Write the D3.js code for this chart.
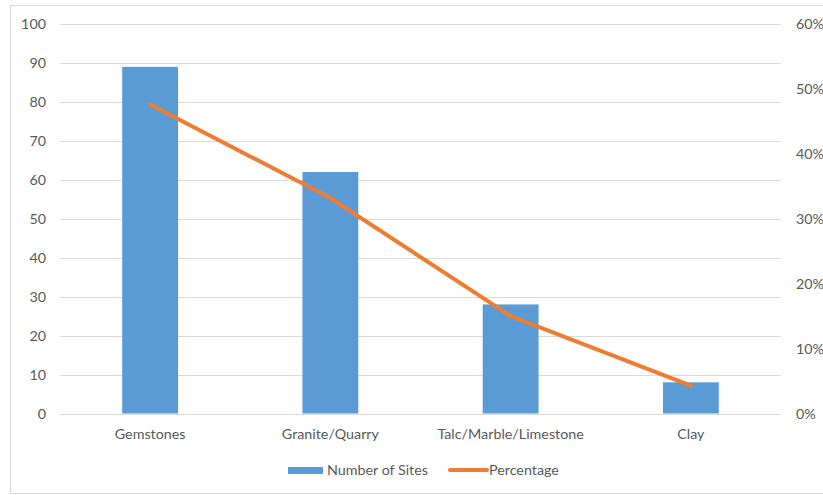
<!DOCTYPE html>
<html>
<head>
<meta charset="utf-8">
<script src="https://cdn.jsdelivr.net/npm/d3@7"></script>
<style>
  html, body { margin: 0; padding: 0; background: #fff; }
  svg { display: block; }
  text { font-family: Lato, "Open Sans", sans-serif; fill: #595959; }
</style>
</head>
<body>
<svg id="chart" width="823" height="495"></svg>
<script>
const categories = ["Gemstones", "Granite/Quarry", "Talc/Marble/Limestone", "Clay"];
const sites = [89, 62, 28, 8];
const percentage = [47.6, 33.2, 15.0, 4.3];
const leftTicks = [0, 10, 20, 30, 40, 50, 60, 70, 80, 90, 100];
const rightTicks = [0, 10, 20, 30, 40, 50, 60];
const seriesNames = ["Number of Sites", "Percentage"];

const FS = "14.3px";
const svg = d3.select("#chart");
const W = 823, H = 495;
const plot = { left: 60, right: 781, top: 24, bottom: 413.5 };

svg.append("rect")
  .attr("x", 10.5).attr("y", 5.5)
  .attr("width", W - 10).attr("height", 488)
  .attr("fill", "#fff").attr("stroke", "#d9d9d9").attr("stroke-width", 1);

const x = d3.scaleBand().domain(categories).range([plot.left, plot.right]).paddingInner(0.69).paddingOuter(0.345);
const yL = d3.scaleLinear().domain([0, 100]).range([plot.bottom, plot.top]);
const yR = d3.scaleLinear().domain([0, 60]).range([plot.bottom, plot.top]);

// gridlines
svg.append("g").selectAll("line").data(leftTicks).join("line")
  .attr("x1", plot.left).attr("x2", plot.right)
  .attr("y1", d => Math.round(yL(d)) + 0.5).attr("y2", d => Math.round(yL(d)) + 0.5)
  .attr("stroke", "#d9d9d9").attr("stroke-width", 1);

function styleText(sel) {
  sel.selectAll("text").style("font-size", FS).attr("fill", "#595959").style("font-family", "Lato, sans-serif");
}

// left axis
const axL = svg.append("g").attr("transform", `translate(${plot.left},0)`)
  .call(d3.axisLeft(yL).tickValues(leftTicks).tickSize(0).tickPadding(14));
axL.select(".domain").remove();
styleText(axL);

// right axis
const axR = svg.append("g").attr("transform", `translate(${plot.right},0)`)
  .call(d3.axisRight(yR).tickValues(rightTicks).tickSize(0).tickPadding(15).tickFormat(d => d + "%"));
axR.select(".domain").remove();
styleText(axR);

// bars
svg.append("g").selectAll("rect").data(categories).join("rect")
  .attr("x", d => x(d)).attr("width", x.bandwidth())
  .attr("y", (d, i) => yL(sites[i])).attr("height", (d, i) => yL(0) - yL(sites[i]))
  .attr("fill", "#5b9bd5");

// x axis baseline
svg.append("line").attr("x1", plot.left).attr("x2", plot.right)
  .attr("y1", Math.round(yL(0)) + 0.5).attr("y2", Math.round(yL(0)) + 0.5)
  .attr("stroke", "#d9d9d9");

// category labels
const axB = svg.append("g").attr("transform", `translate(0,${plot.bottom})`)
  .call(d3.axisBottom(x).tickSize(0).tickPadding(15));
axB.select(".domain").remove();
styleText(axB);

// line
const line = d3.line()
  .x((d, i) => x(categories[i]) + x.bandwidth() / 2)
  .y(d => yR(d));
svg.append("path").datum(percentage)
  .attr("d", line).attr("fill", "none")
  .attr("stroke", "#ed7d31").attr("stroke-width", 4).attr("stroke-linecap", "round").attr("stroke-linejoin", "round");

// legend
const lg = svg.append("g");
lg.append("rect").attr("x", 288).attr("y", 467).attr("width", 35).attr("height", 7).attr("fill", "#5b9bd5");
lg.append("text").attr("x", 327).attr("y", 470).attr("dy", "0.35em").style("font-size", FS).text(seriesNames[0]);
lg.append("line").attr("x1", 450).attr("x2", 487).attr("y1", 470).attr("y2", 470)
  .attr("stroke", "#ed7d31").attr("stroke-width", 4).attr("stroke-linecap", "round");
lg.append("text").attr("x", 489).attr("y", 470).attr("dy", "0.35em").style("font-size", FS).text(seriesNames[1]);
</script>
</body>
</html>
